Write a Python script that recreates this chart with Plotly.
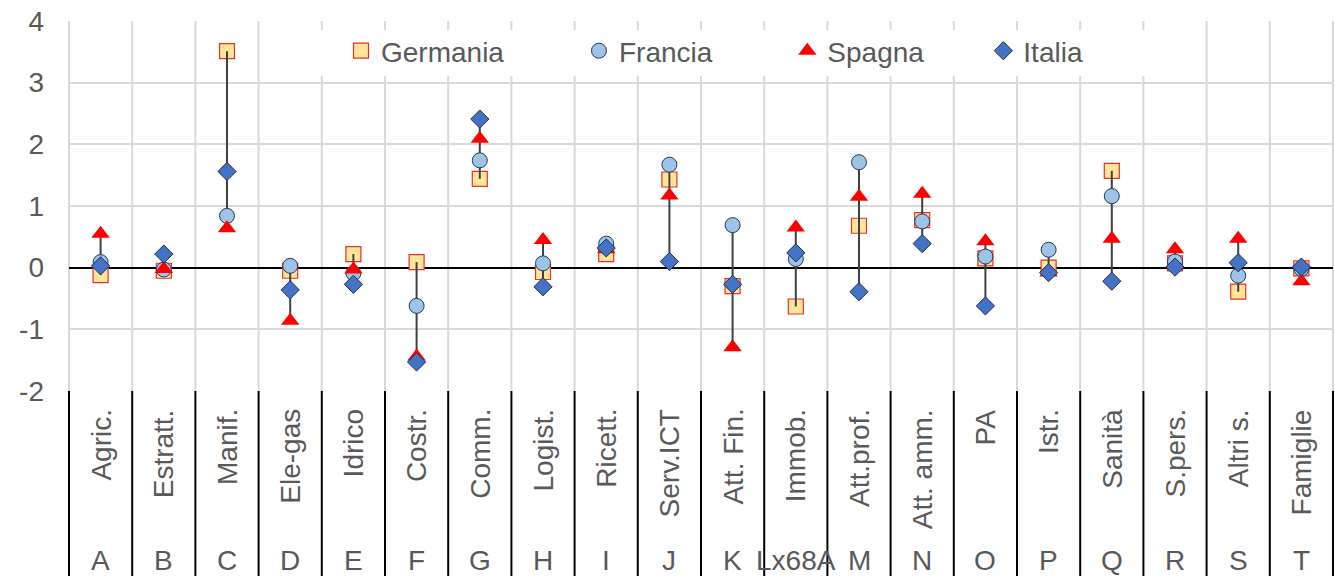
import plotly.graph_objects as go

# Sector names (rotated labels) and their NACE codes
sectors = ["Agric.", "Estratt.", "Manif.", "Ele-gas", "Idrico", "Costr.", "Comm.",
           "Logist.", "Ricett.", "Serv.ICT", "Att. Fin.", "Immob.", "Att.prof.",
           "Att. amm.", "PA", "Istr.", "Sanità", "S.pers.", "Altri s.", "Famiglie"]
codes = ["A", "B", "C", "D", "E", "F", "G", "H", "I", "J", "K", "Lx68A", "M",
         "N", "O", "P", "Q", "R", "S", "T"]

germania = [-0.12, -0.05, 3.51, -0.05, 0.22, 0.09, 1.44, -0.07, 0.22, 1.43,
            -0.30, -0.63, 0.68, 0.77, 0.15, 0.00, 1.57, 0.07, -0.39, -0.01]
francia = [0.09, -0.03, 0.84, 0.03, -0.09, -0.62, 1.74, 0.07, 0.39, 1.67,
           0.69, 0.14, 1.71, 0.75, 0.18, 0.29, 1.16, 0.10, -0.13, -0.02]
spagna = [0.55, -0.02, 0.64, -0.86, -0.03, -1.44, 2.09, 0.45, 0.30, 1.17,
          -1.29, 0.65, 1.15, 1.20, 0.43, -0.08, 0.47, 0.30, 0.47, -0.22]
italia = [0.03, 0.22, 1.56, -0.36, -0.27, -1.53, 2.41, -0.31, 0.32, 0.10,
          -0.27, 0.24, -0.39, 0.39, -0.62, -0.08, -0.22, 0.01, 0.08, 0.01]

y_ticks = [-2, -1, 0, 1, 2, 3, 4]
y_tick_text = ["-2", "-1", "0", "1", "2", "3", "4"]

W, H = 1335, 576
ML, MR, MT, MB = 69, 2, 21, 185
PLOT_H = H - MT - MB
PLOT_W = W - ML - MR
TXT = "#595959"
FONT = "Liberation Sans, Arial, sans-serif"


def py(ypix):
    """Pixel row -> paper y coordinate."""
    return (H - MB - ypix) / PLOT_H


def px(xpix):
    """Pixel column -> paper x coordinate."""
    return (xpix - ML) / PLOT_W


n = len(sectors)
xs = list(range(n))

# high-low connector for each sector
line_x, line_y = [], []
for i in range(n):
    vals = [germania[i], francia[i], spagna[i], italia[i]]
    line_x += [i, i, None]
    line_y += [min(vals), max(vals), None]

fig = go.Figure()
fig.add_trace(go.Scatter(
    x=xs, y=germania, mode="markers", name="Germania" + "\u00a0" * 9,
    marker=dict(symbol="square", size=15, color="#FFE699",
                line=dict(color="#E8302A", width=1.2))))
fig.add_trace(go.Scatter(
    x=line_x, y=line_y, mode="lines", showlegend=False, hoverinfo="skip",
    line=dict(color="#404040", width=2)))
fig.add_trace(go.Scatter(
    x=xs, y=francia, mode="markers", name="Francia" + "\u00a0" * 9,
    marker=dict(symbol="circle", size=15, color="#9DC3E6",
                line=dict(color="#1F3A5A", width=1))))
fig.add_trace(go.Scatter(
    x=xs, y=spagna, mode="markers", name="Spagna" + "\u00a0" * 7,
    marker=dict(symbol="triangle-up", size=16, color="#FF0000",
                line=dict(width=0))))
fig.add_trace(go.Scatter(
    x=xs, y=italia, mode="markers", name="Italia",
    marker=dict(symbol="diamond", size=14, color="#4472C4",
                line=dict(color="#1F2F4F", width=1))))

shapes = []
# vertical category grid in the plot area and black separators below it
for k in range(n + 1):
    xp = k / n
    shapes.append(dict(type="line", xref="paper", yref="paper", x0=xp, x1=xp,
                       y0=0, y1=1, layer="below",
                       line=dict(color="#D9D9D9", width=2)))
    shapes.append(dict(type="line", xref="paper", yref="paper", x0=xp, x1=xp,
                       y0=0, y1=py(H + 2), layer="above",
                       line=dict(color="#000000", width=2)))
# white backing behind the legend
shapes.append(dict(type="rect", xref="paper", yref="paper",
                   x0=px(318), x1=px(1150), y0=py(76), y1=py(30),
                   layer="between", line=dict(width=0), fillcolor="white"))

annotations = []
for i in range(n):
    annotations.append(dict(
        x=i, xref="x", y=py(407), yref="paper", text=sectors[i],
        textangle=-90, xanchor="center", yanchor="top", showarrow=False,
        font=dict(size=28, color=TXT, family=FONT)))
    annotations.append(dict(
        x=i, xref="x", y=py(543), yref="paper", text=codes[i],
        xanchor="center", yanchor="top", showarrow=False,
        font=dict(size=28, color=TXT, family=FONT)))

fig.update_layout(
    width=W, height=H,
    margin=dict(l=ML, r=MR, t=MT, b=MB, pad=0),
    paper_bgcolor="white", plot_bgcolor="white",
    font=dict(family=FONT, size=28, color=TXT),
    showlegend=True,
    legend=dict(orientation="h", x=px(341), xanchor="left",
                y=py(26), yanchor="top", bgcolor="rgba(0,0,0,0)",
                font=dict(size=28, color=TXT, family=FONT),
                itemclick=False, itemdoubleclick=False),
    xaxis=dict(range=[-0.5, n - 0.5], showgrid=False, zeroline=False,
               showticklabels=False, showline=False, fixedrange=True),
    yaxis=dict(range=[-2, 4], tickvals=y_ticks, ticktext=y_tick_text,
               showgrid=True, gridcolor="#D9D9D9", gridwidth=2, zeroline=True,
               zerolinecolor="#000000", zerolinewidth=2, showline=False,
               tickfont=dict(size=28, color=TXT, family=FONT),
               ticklabelstandoff=24, fixedrange=True),
    shapes=shapes, annotations=annotations,
)

fig.write_html("out.html")
